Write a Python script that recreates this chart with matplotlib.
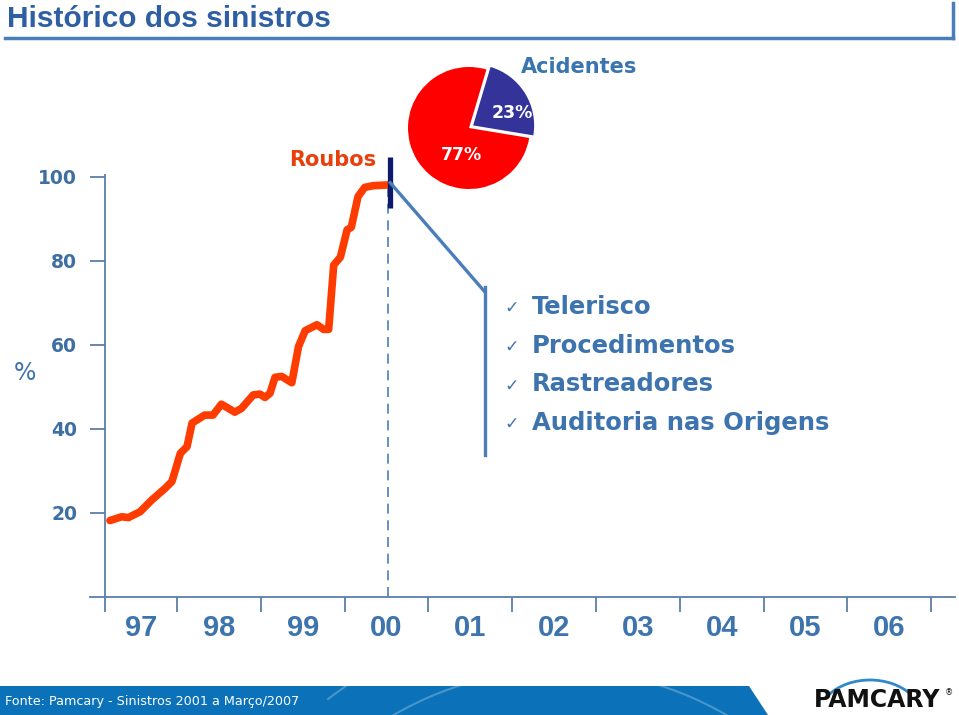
import matplotlib
matplotlib.use("Agg")
import matplotlib.pyplot as plt
from matplotlib.lines import Line2D
from matplotlib.patches import Polygon, Arc

W, H = 959, 715

# Roubos (monthly history, % of claims)
months = [1997.20, 1997.34, 1997.42, 1997.56, 1997.70, 1997.86, 1997.94,
          1998.04, 1998.12, 1998.18, 1998.33, 1998.43, 1998.53, 1998.69,
          1998.77, 1998.91, 1998.99, 1999.05, 1999.11, 1999.17, 1999.25,
          1999.37, 1999.45, 1999.53, 1999.67, 1999.75, 1999.81, 1999.87,
          1999.95, 2000.03, 2000.08, 2000.16, 2000.24, 2000.34, 2000.54]
roubos = [18.2, 19.1, 18.9, 20.3, 23.1, 25.9, 27.5,
          34.2, 35.8, 41.4, 43.3, 43.3, 45.9, 44.0,
          44.9, 48.1, 48.3, 47.5, 48.5, 52.3, 52.5,
          51.0, 59.6, 63.4, 64.8, 63.7, 63.7, 79.0,
          80.9, 87.4, 88.0, 95.3, 97.5, 97.9, 98.1]

year_labels = ["97", "98", "99", "00", "01", "02", "03", "04", "05", "06"]
year_bounds = [1997.14, 1998, 1999, 2000, 2001, 2002, 2003, 2004, 2005, 2006, 2007]
y_ticks = [20, 40, 60, 80, 100]

pie_labels = ["23%", "77%"]
pie_values = [23, 77]
pie_colors = ["#333399", "#FF0000"]

checklist = ["Telerisco", "Procedimentos", "Rastreadores", "Auditoria nas Origens"]

cut_x = 2000.52
blue = "#3E74AE"
line_blue = "#4A7EBB"


def fx(px):
    return px / W


def fy(py):
    return 1 - py / H


fig = plt.figure(figsize=(W / 100, H / 100), dpi=100)

# title bar
fig.text(fx(7), fy(19), "Histórico dos sinistros", fontsize=21.5, fontweight="bold",
         family="Liberation Sans", color="#2E5FA3", va="center", ha="left")
fig.add_artist(Line2D([fx(5), fx(953)], [fy(38), fy(38)], color=line_blue, lw=2.5))
fig.add_artist(Line2D([fx(953), fx(953)], [fy(3), fy(38)], color=line_blue, lw=2.5))

# main chart
ax = fig.add_axes([fx(90), fy(597), fx(955) - fx(90), fy(150) - fy(597)])
ax.set_xlim(1996.962, 2007.284)
ax.set_ylim(0, 106.4)
for s in ["top", "right"]:
    ax.spines[s].set_visible(False)
ax.spines["left"].set_position(("data", year_bounds[0]))
ax.spines["left"].set_bounds(0, 100.5)
ax.spines["left"].set_color("#5A7FA8")
ax.spines["bottom"].set_color("#5A7FA8")
ax.spines["left"].set_linewidth(1.3)
ax.spines["bottom"].set_linewidth(1.3)

ax.set_yticks(y_ticks)
ax.set_yticklabels([str(v) for v in y_ticks])
ax.tick_params(axis="y", direction="out", length=11, width=1.3, color="#5A7FA8",
               pad=9, labelsize=13.5, labelcolor="#3E6FA3")
for t in ax.get_yticklabels():
    t.set_fontweight("bold")

ax.set_xticks(year_bounds)
ax.set_xticklabels([])
ax.set_xticks([(a + b) / 2 for a, b in zip(year_bounds[:-1], year_bounds[1:])], minor=True)
ax.set_xticklabels(year_labels, minor=True)
ax.tick_params(axis="x", which="major", direction="out", length=11, width=1.3, color="#5A7FA8")
ax.tick_params(axis="x", which="minor", length=0, pad=12, labelsize=21, labelcolor=blue)
for t in ax.get_xticklabels(minor=True):
    t.set_fontweight("bold")
    t.set_family("Liberation Sans")

ax.text(-0.075, 0.5, "%", transform=ax.transAxes, fontsize=17, color=blue,
        ha="center", va="center")

ax.vlines(cut_x, 0, 97.5, color=line_blue, lw=1.2, linestyles=(0, (6, 4)))
ax.plot(months, roubos, color="#FF3C00", lw=5.5, solid_joinstyle="round",
        solid_capstyle="round", zorder=3)
ax.plot([2000.545, 2000.545], [92.6, 104.8], color="#0D1A6B", lw=3.8,
        solid_capstyle="butt", zorder=4, clip_on=False)

# callout
ax.plot([2000.545, 2001.675], [98.6, 72.6], color=line_blue, lw=2.4, zorder=5)
ax.plot([2001.675, 2001.675], [73.8, 33.8], color=line_blue, lw=2.4, zorder=5)

for i, item in enumerate(checklist):
    yy = 307 + i * 38.7
    fig.text(fx(504), fy(yy + 1), "\u2713", fontsize=12.5, color=blue, ha="left", va="center")
    fig.text(fx(532), fy(yy), item, fontsize=17.5, fontweight="bold", color=blue,
             ha="left", va="center")

fig.text(fx(333), fy(160), "Roubos", fontsize=15, fontweight="bold", color="#E8400C",
         ha="center", va="center")
fig.text(fx(579), fy(67), "Acidentes", fontsize=15, fontweight="bold", color="#3A75B0",
         ha="center", va="center")

# pie
r_px = 61
pax = fig.add_axes([fx(469 - 80), fy(128 + 80), 160 / W, 160 / H])
pax.pie(pie_values, colors=pie_colors, startangle=-9.4, explode=[0.08, 0],
        radius=1, wedgeprops=dict(linewidth=0))
lim = 80 / r_px
pax.set_xlim(-lim, lim)
pax.set_ylim(-lim, lim)
pax.set_aspect("equal")
pax.axis("off")
pax.text(43 / r_px, 15 / r_px, pie_labels[0], color="white", fontsize=12.5,
         fontweight="bold", ha="center", va="center")
pax.text(-8 / r_px, -27 / r_px, pie_labels[1], color="white", fontsize=12.5,
         fontweight="bold", ha="center", va="center")

# footer band
band = Polygon([(fx(0), fy(686)), (fx(749), fy(686)), (fx(768), fy(715)), (fx(0), fy(715))],
               closed=True, transform=fig.transFigure, facecolor="#0B72B9",
               edgecolor="none")
fig.add_artist(band)
for r in [330, 380, 430]:
    arc = Arc((fx(560), fy(1000)), 2 * r / W, 2 * r / H, theta1=60, theta2=120,
              transform=fig.transFigure, color="white", alpha=0.25, lw=1.5)
    arc.set_clip_path(band)
    fig.add_artist(arc)
fig.text(fx(5), fy(702), "Fonte: Pamcary - Sinistros 2001 a Março/2007", fontsize=9.2,
         color="white", ha="left", va="center")

# logo
fig.text(fx(877), fy(700), "PAMCARY", fontsize=17, fontweight="bold", color="#111111",
         ha="center", va="center")
fig.text(fx(949), fy(693), "\u00ae", fontsize=6, color="#111111", ha="center", va="center")
fig.add_artist(Arc((fx(870), fy(718)), 104 / W, 76 / H, theta1=38, theta2=142,
                   transform=fig.transFigure, color="#2F8ACB", lw=2))

fig.savefig("out.png", dpi=100)
